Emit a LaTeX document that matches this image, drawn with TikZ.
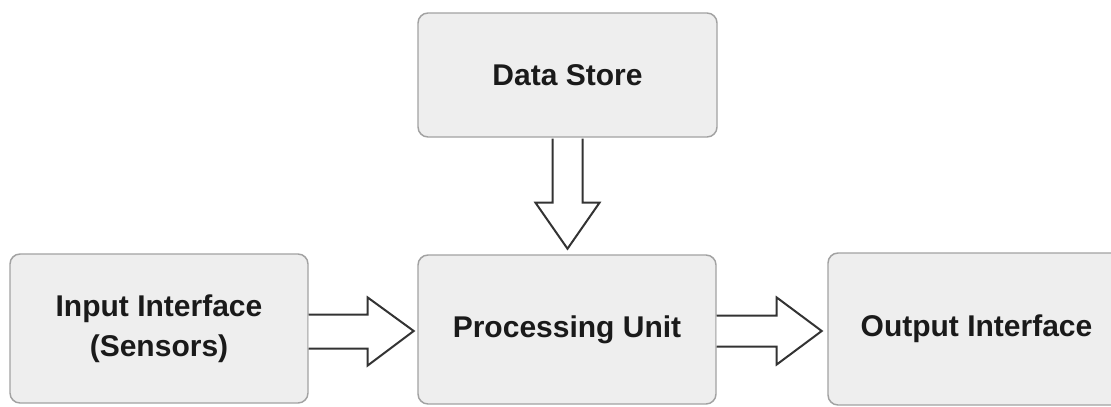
\documentclass[tikz,border=0pt]{standalone}
\usepackage{fontspec}
\setmainfont{Liberation Sans}
\begin{document}
\begin{tikzpicture}[x=0.75pt,y=-0.75pt,
  blockbox/.style={draw=boxedge, fill=boxfill, line width=1.1pt, rounded corners=7.5pt,
    minimum width=223.5pt, minimum height=111.75pt, inner sep=0pt,
    font=\fontsize{22.5pt}{30pt}\selectfont\bfseries, text=textcol, align=center},
  hollowarrow/.style={draw=arrowcol, fill=white, line width=1.5pt, line join=miter}]
\definecolor{boxedge}{HTML}{A2A2A2}
\definecolor{boxfill}{HTML}{EEEEEE}
\definecolor{arrowcol}{HTML}{333333}
\definecolor{textcol}{HTML}{1A1A1A}
\useasboundingbox (0,0) rectangle (1111,407);
\clip (0,0) rectangle (1111,407);

% the four blocks
\node[blockbox, minimum width=224.25pt, minimum height=93pt] (ds) at (567.5,75) {Data Store};
\node[blockbox] (in) at (159,328.5) {Input Interface\\(Sensors)};
\node[blockbox] (pu) at (567,329.5) {Processing Unit};
\node[blockbox, minimum width=222.75pt, minimum height=114pt] (out) at (976.5,329) {Output Interface};

% hollow block arrow: data store down into the processing unit
\draw[hollowarrow] (ds.south) ++(-15,1) -- ++(0,64) -- ++(-17,0) -- ++(32,46)
  -- ++(32,-46) -- ++(-17,0) -- ++(0,-64);

% hollow block arrow: input interface into the processing unit
\draw[hollowarrow] (in.east) ++(0,-14) -- ++(59,0) -- ++(0,-17) -- ++(46,33.5)
  -- ++(-46,34.5) -- ++(0,-17) -- ++(-59,0);

% hollow block arrow: processing unit into the output interface
\draw[hollowarrow] (pu.east) ++(0,-14) -- ++(60,0) -- ++(0,-18) -- ++(45,33.5)
  -- ++(-45,33.5) -- ++(0,-18) -- ++(-60,0);
\end{tikzpicture}
\end{document}
